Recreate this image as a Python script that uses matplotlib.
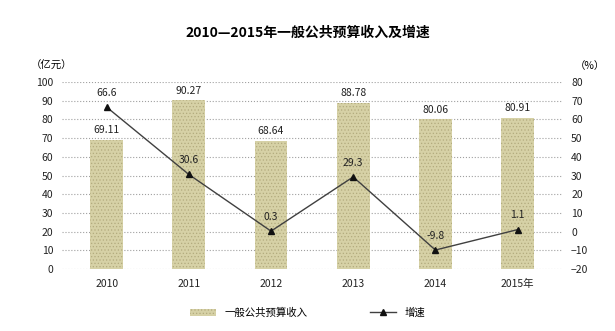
import matplotlib.pyplot as plt
import matplotlib.lines as mlines
import matplotlib.patches as mpatches

plt.rcParams['font.family'] = ['Noto Sans CJK SC', 'DejaVu Sans']
plt.rcParams['hatch.linewidth'] = 0.5

# Data
years = ['2010', '2011', '2012', '2013', '2014', '2015年']
revenue = [69.11, 90.27, 68.64, 88.78, 80.06, 80.91]
growth = [66.6, 30.6, 0.3, 29.3, -9.8, 1.1]

fig = plt.figure(figsize=(6.15, 3.31), dpi=100)
ax = fig.add_axes([0.10, 0.187, 0.815, 0.565])
ax2 = ax.twinx()

x = list(range(len(years)))

# Bars
bar_color = '#d6d1a6'
hatch_color = '#b3ab7e'
ax.bar(x, revenue, width=0.4, color=bar_color, hatch='.....', edgecolor=hatch_color,
       linewidth=0, zorder=2)
for xi, v in zip(x, revenue):
    ax.text(xi, v + 2.5, f'{v:.2f}', ha='center', va='bottom', fontsize=7.5, color='#222222')

ax.set_ylim(0, 100)
ax.set_yticks(range(0, 101, 10))
ax.set_xlim(-0.55, 5.55)
ax.set_xticks(x)
ax.set_xticklabels(years)
ax.grid(axis='y', linestyle=':', color='#a0a0a0', linewidth=0.8, zorder=0)
ax.set_axisbelow(True)

# Line
ax2.plot(x, growth, color='#404040', linewidth=1.0, marker='^', markersize=5,
         markerfacecolor='#111111', markeredgecolor='#111111', zorder=3)
for xi, g in zip(x, growth):
    ax2.text(xi, g + 5, f'{g}', ha='center', va='bottom', fontsize=7.5, color='#222222')
ax2.set_ylim(-20, 80)
ax2.set_yticks(range(-20, 81, 10))

for a in (ax, ax2):
    for s in a.spines.values():
        s.set_visible(False)
    a.tick_params(length=0, labelsize=7.5, colors='#222222', pad=6)
ax.tick_params(axis='x', pad=7)

# Titles and units
fig.text(0.5, 0.9, '2010—2015年一般公共预算收入及增速', ha='center', va='center',
         fontsize=10, fontweight='bold')
fig.text(0.05, 0.80, '（亿元）', ha='left', va='center', fontsize=7.5)
fig.text(0.935, 0.80, '（%）', ha='left', va='center', fontsize=7.5)

# Legend
bar_handle = mpatches.Patch(facecolor=bar_color, hatch='.....', edgecolor=hatch_color,
                            linewidth=0, label='一般公共预算收入')
line_handle = mlines.Line2D([], [], color='#404040', linewidth=1.0, marker='^', markersize=4,
                            markerfacecolor='#111111', markeredgecolor='#111111', label='增速')
fig.legend(handles=[bar_handle, line_handle], loc='center', bbox_to_anchor=(0.5, 0.055),
           ncol=2, frameon=False, fontsize=7.5, columnspacing=6, handlelength=2.5,
           handleheight=0.6)

fig.savefig('out.png', dpi=100)
